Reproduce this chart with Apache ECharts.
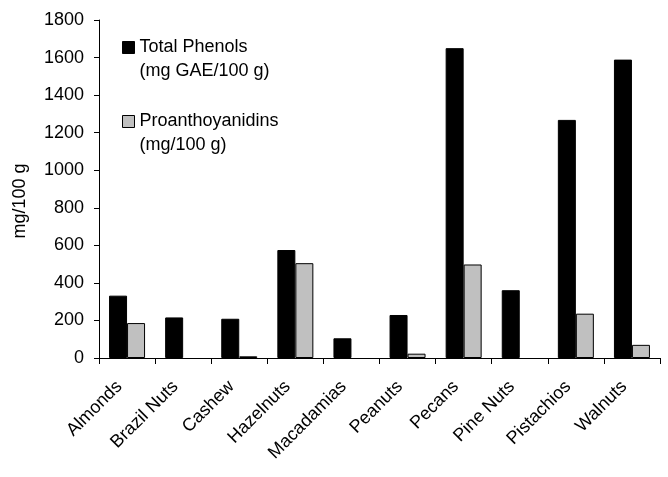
<!DOCTYPE html>
<html><head><meta charset="utf-8">
<script src="https://cdn.jsdelivr.net/npm/echarts@6/dist/echarts.min.js"></script>
<style>html,body{margin:0;padding:0;background:#fff}#c{width:668px;height:477px}</style>
</head><body><div id="c"></div>
<script>
const categories = ['Almonds','Brazil Nuts','Cashew','Hazelnuts','Macadamias','Peanuts','Pecans','Pine Nuts','Pistachios','Walnuts'];
const totalPhenols = [332, 216, 209, 575, 105, 229, 1650, 361, 1268, 1589];
const proanthocyanidins = [186, null, 9, 505, null, 23, 498, null, 236, 70];
const yTicks = [0, 200, 400, 600, 800, 1000, 1200, 1400, 1600, 1800];
const seriesNames = ['Total Phenols\n(mg GAE/100 g)', 'Proanthoyanidins\n(mg/100 g)'];

const font = 'Liberation Sans, Arial, sans-serif';
// icon square sits in the upper part of a tall item box so it lines up with the first text line
const legendIcon = 'path://M0,0L0,0M0,6L12,6L12,18L0,18ZM0,48L0,48';
const chart = echarts.init(document.getElementById('c'));
chart.setOption({
  animation: false,
  backgroundColor: '#fff',
  textStyle: { fontFamily: font, color: '#000' },
  grid: { left: 99, right: 8, top: 20, bottom: 119, containLabel: false },
  legend: {
    orient: 'vertical', left: 117, top: 30, itemGap: 25,
    itemWidth: 12, itemHeight: 48,
    textStyle: { fontFamily: font, fontSize: 18, color: '#000', lineHeight: 24 },
    data: [
      { name: seriesNames[0], icon: legendIcon, itemStyle: { color: '#000', borderColor: '#000', borderWidth: 1 } },
      { name: seriesNames[1], icon: legendIcon, itemStyle: { color: '#c0c0c0', borderColor: '#000', borderWidth: 1 } }
    ]
  },
  xAxis: {
    type: 'category', data: categories,
    axisLine: { lineStyle: { color: '#000', width: 1 } },
    axisTick: { show: true, length: 6, lineStyle: { color: '#000' } },
    axisLabel: { rotate: 45, fontSize: 18, color: '#000', fontFamily: font, margin: 18, interval: 0,
      padding: [0, 11, 0, 0] }
  },
  yAxis: {
    type: 'value', min: 0, max: 1800, interval: 200,
    name: 'mg/100 g', nameLocation: 'middle', nameGap: 70, nameRotate: 90,
    nameTextStyle: { fontSize: 18, color: '#000', fontFamily: font, padding: [0, 24, 0, 0] },
    axisLine: { show: true, lineStyle: { color: '#000', width: 1 } },
    axisTick: { show: true, length: 5, lineStyle: { color: '#000' } },
    axisLabel: { fontSize: 18, color: '#000', fontFamily: font, margin: 15,
      formatter: v => yTicks.includes(v) ? String(v) : '' },
    splitLine: { show: false }
  },
  series: [
    { name: seriesNames[0], type: 'bar', data: totalPhenols, barWidth: 18, barGap: '0%',
      itemStyle: { color: '#000', borderColor: '#000', borderWidth: 1 } },
    { name: seriesNames[1], type: 'bar', data: proanthocyanidins, barWidth: 18,
      itemStyle: { color: '#c0c0c0', borderColor: '#000', borderWidth: 1 } }
  ]
});
</script></body></html>
